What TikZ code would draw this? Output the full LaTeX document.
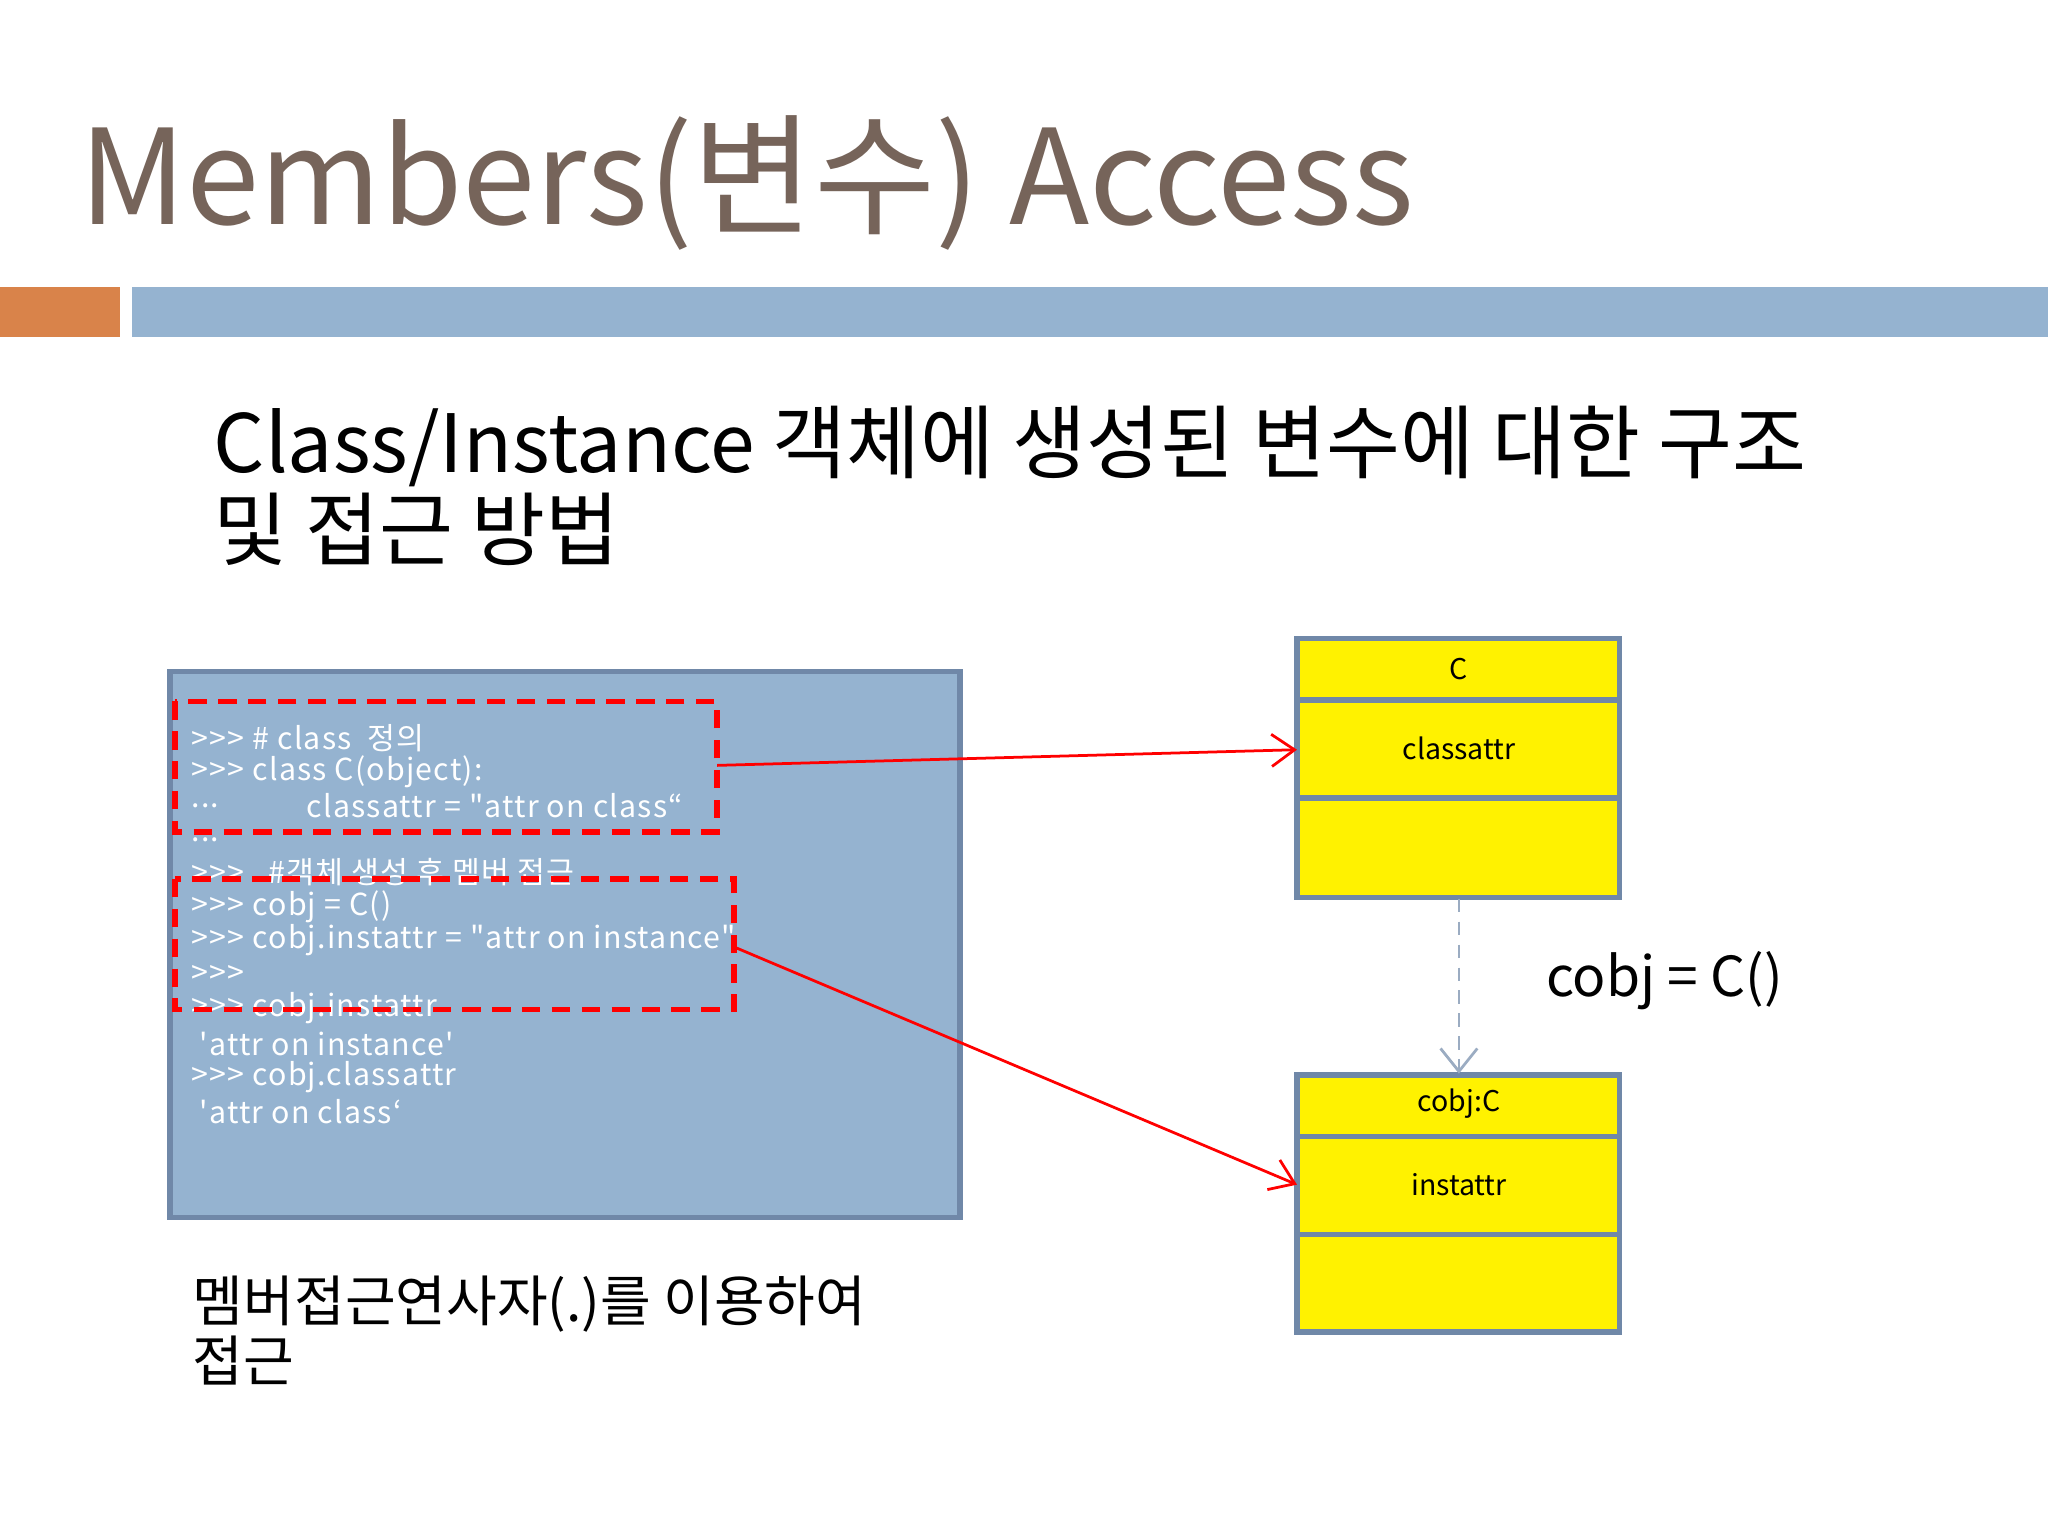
\documentclass[tikz,border=0pt]{standalone}
\usepackage{fontspec}
\setmainfont{Noto Sans CJK KR}
\newfontfamily\codefont[Ligatures=TeXOff,LetterSpace=4]{Noto Sans CJK KR}
\usetikzlibrary{arrows.meta}
\definecolor{barblue}{HTML}{95B3D0}
\definecolor{barorange}{HTML}{D9834A}
\definecolor{titlebrown}{HTML}{76645A}
\definecolor{edgeblue}{HTML}{7088A8}
\tikzset{
 codeline/.style={anchor=west,text=white,font=\codefont\fontsize{6.6}{7}\selectfont,inner sep=0},
 redbox/.style={draw=red,dashed,line width=1.2pt,dash pattern=on 4pt off 2.5pt},
 umlbox/.style={draw=edgeblue,fill=yellow,line width=1.2pt},
 umltext/.style={font=\fontsize{6.2}{7}\selectfont,inner sep=0},
 redarrow/.style={draw=red,line width=0.6pt,-{Straight Barb[length=5pt,width=7pt]}},
}
\begin{document}
\begin{tikzpicture}[x=0.01cm,y=-0.01cm]
\useasboundingbox (0,0) rectangle (1568,1176);
\fill[white] (0,0) rectangle (1568,1176);
\fill[barorange] (0,220) rectangle (92,258);
\fill[barblue] (101,220) rectangle (1568,258);
\node[anchor=base west,inner sep=0,text=titlebrown,font=\fontsize{28.7}{34}\selectfont] (title) at (60,172) {Members(변수) Access};
\node[anchor=base west,inner sep=0,font=\fontsize{17.5}{19}\selectfont] (sub1) at (163,362) {Class/Instance 객체에 생성된 변수에 대한 구조};
\node[anchor=base west,inner sep=0,font=\fontsize{17.5}{19}\selectfont] (sub2) at (163,428) {및 접근 방법};
% code box
\draw[fill=barblue,draw=edgeblue,line width=1.2pt] (130,514) rectangle (735,932);
\foreach \y/\t in {565/{>>> \# class\ \ 정의},591/{>>> class C(object):},617/{...},643/{...},668/{>>>\ \ \ \#객체 생성 후 멤버 접근},694/{>>> cobj = C()},720/{>>> cobj.instattr = \symbol{34}attr on instance\symbol{34}},746/{>>>},772/{>>> cobj.instattr},799/{\ \symbol{39}attr on instance\symbol{39}},825/{>>> cobj.classattr},851/{\ \symbol{39}attr on class‘}}
  \node[codeline] at (146,\y) {\t};
\node[codeline] at (234,617) {classattr = \symbol{34}attr on class“};
\draw[redbox] (134,537) rectangle (549,637);
\draw[redbox] (134,673) rectangle (562,773);
\coordinate (r1) at (549,586);
\coordinate (r2) at (562,725);
% UML boxes
\draw[umlbox] (993,489) rectangle (1240,687);
\draw[edgeblue,line width=1.2pt] (993,536) -- (1240,536) (993,611) -- (1240,611);
\node[umltext] (cname) at (1117,512) {C};
\node[umltext] (cattr) at (1117,573) {classattr};
\draw[umlbox] (993,823) rectangle (1240,1020);
\draw[edgeblue,line width=1.2pt] (993,870) -- (1240,870) (993,945) -- (1240,945);
\node[umltext] (oname) at (1117,845) {cobj:C};
\node[umltext] (oattr) at (1117,907) {instattr};
\coordinate (cbot) at (1117,688);
\coordinate (otop) at (1117,822);
\coordinate (cin) at (993,574);
\coordinate (oin) at (993,907);
\draw[densely dashed,draw=edgeblue!70,line width=0.6pt,-{Straight Barb[length=5pt,width=8pt]}] (cbot) -- (otop);
\draw[redarrow] (r1) -- (cin);
\draw[redarrow] (r2) -- (oin);
\node[anchor=west,inner sep=0,font=\fontsize{12}{14}\selectfont] (eq) at (1183,751) {cobj = C()};
\node[anchor=base west,inner sep=0,font=\fontsize{12}{13}\selectfont] (bot1) at (147,1012) {멤버접근연사자(.)를 이용하여};
\node[anchor=base west,inner sep=0,font=\fontsize{12}{13}\selectfont] (bot2) at (147,1058) {접근};
\end{tikzpicture}
\end{document}
